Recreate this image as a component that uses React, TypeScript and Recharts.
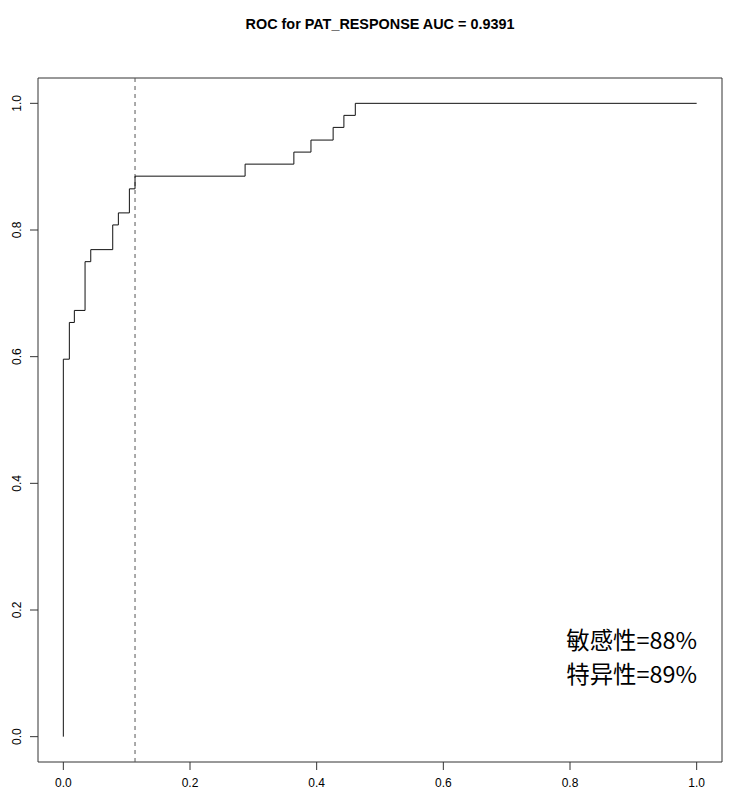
import { LineChart, Line, XAxis, YAxis, ReferenceLine, ReferenceArea } from "recharts";

// ROC curve corner points (false positive rate, true positive rate)
const fpr = [0, 0, 0.0095, 0.0174, 0.0343, 0.0433, 0.078, 0.0869, 0.1043, 0.1132, 0.287, 0.364, 0.391, 0.426, 0.443, 0.461, 1.0];
const tpr = [0, 0.596, 0.654, 0.673, 0.75, 0.769, 0.808, 0.827, 0.865, 0.885, 0.904, 0.923, 0.942, 0.962, 0.981, 1.0, 1.0];

const xTicks = [0, 0.2, 0.4, 0.6, 0.8, 1.0];
const yTicks = [0, 0.2, 0.4, 0.6, 0.8, 1.0];
const cutoffFpr = 0.1132;

const title = "ROC for PAT_RESPONSE AUC = 0.9391";
const notes = ["敏感性=88%", "特异性=89%"];

const roc = fpr.map((f, i) => ({ fpr: f, tpr: tpr[i] }));

const font = "'Liberation Sans', Arial, sans-serif";

function YTick(props: any) {
  const { y, payload } = props;
  return (
    <g>
      <line x1={30} x2={38} y1={y} y2={y} stroke="#333" />
      <text
        transform={`translate(21, ${y}) rotate(-90)`}
        textAnchor="middle"
        fontSize={12}
        fontFamily={font}
        fill="#000"
      >
        {Number(payload.value).toFixed(1)}
      </text>
    </g>
  );
}

export default function App() {
  return (
    <div style={{ position: "relative", width: 740, height: 800, background: "#fff" }}>
      <style>{`body{margin:0}`}</style>
      <LineChart width={740} height={800} data={roc} margin={{ top: 78, right: 18, left: 0, bottom: 0 }}>
        <XAxis
          type="number"
          dataKey="fpr"
          domain={[-0.04, 1.04]}
          ticks={xTicks}
          allowDataOverflow
          height={38}
          axisLine={false}
          tickSize={8}
          tickMargin={8}
          tickLine={{ stroke: "#333" }}
          tickFormatter={(v: number) => v.toFixed(1)}
          tick={{ fill: "#000", fontSize: 12, fontFamily: font }}
        />
        <YAxis
          type="number"
          domain={[-0.04, 1.04]}
          ticks={yTicks}
          allowDataOverflow
          width={38}
          axisLine={false}
          tickLine={false}
          tick={(p: any) => <YTick {...p} />}
        />
        <ReferenceArea x1={-0.04} x2={1.04} y1={-0.04} y2={1.04} fill="none" stroke="#333" strokeWidth={1} />
        <ReferenceLine x={cutoffFpr} stroke="#555" strokeDasharray="4 4" />
        <Line
          type="stepAfter"
          dataKey="tpr"
          stroke="#111"
          strokeWidth={1}
          dot={false}
          isAnimationActive={false}
        />
      </LineChart>
      <svg width={740} height={800} style={{ position: "absolute", left: 0, top: 0, pointerEvents: "none" }}>
        <text x={380} y={29} textAnchor="middle" fontSize={14.4} fontWeight="bold" fontFamily={font} fill="#000">
          {title}
        </text>
        {notes.map((n, i) => (
          <text
            key={n}
            x={697}
            y={649 + i * 34}
            textAnchor="end"
            fontSize={23.4}
            fontFamily="'Noto Sans CJK SC', sans-serif"
            fill="#000"
          >
            {n}
          </text>
        ))}
      </svg>
    </div>
  );
}
